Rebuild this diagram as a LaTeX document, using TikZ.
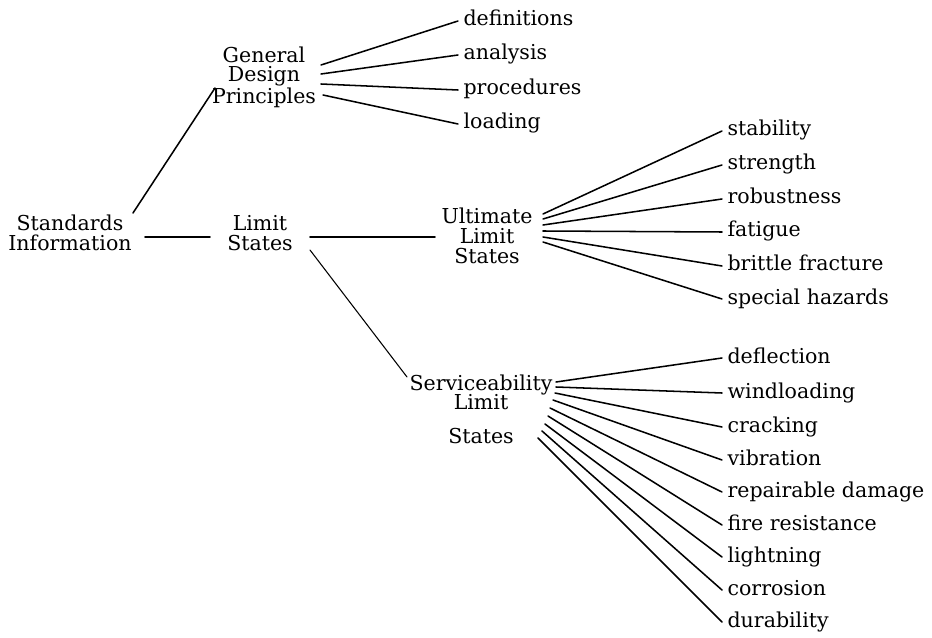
\documentclass[tikz,border=0pt]{standalone}
\usepackage{fontspec}
\setmainfont{DejaVu Serif}
\begin{document}
\begin{tikzpicture}[x=0.75pt,y=-0.75pt,
  lbl/.style={font=\fontsize{15.4}{14.8}\selectfont, align=center, inner sep=0pt},
  leaf/.style={font=\fontsize{15.4}{14.8}\selectfont, anchor=west, inner xsep=4pt, inner ysep=0pt, text height=11pt, text depth=3.5pt},
  conn/.style={line width=1.15pt, line cap=round}]
\useasboundingbox[fill=white] (0,0) rectangle (932,638);

% main nodes
\node[lbl] (si)  at (70,233)  {Standards\\Information};
\node[lbl] (gdp) at (264,77)  {General\\Design\\Principles};
\node[lbl] (ls)  at (260,233) {Limit\\States};
\node[lbl] (uls) at (487,236) {Ultimate\\Limit\\States};
\node[lbl] (sls) at (481,409) {Serviceability\\Limit\\[10pt]States};

% GDP leaves
\node[leaf] (def)  at (458,21)  {definitions};
\node[leaf] (ana)  at (458,55)  {analysis};
\node[leaf] (proc) at (458,90)  {procedures};
\node[leaf] (load) at (458,124) {loading};

% ULS leaves
\node[leaf] (stab) at (722,131) {stability};
\node[leaf] (str)  at (722,165) {strength};
\node[leaf] (rob)  at (722,199) {robustness};
\node[leaf] (fat)  at (722,232) {fatigue};
\node[leaf] (bri)  at (722,266) {brittle fracture};
\node[leaf] (spe)  at (722,299) {special hazards};

% SLS leaves
\node[leaf] (defl) at (722,358) {deflection};
\node[leaf] (wind) at (722,393) {windloading};
\node[leaf] (crac) at (722,427) {cracking};
\node[leaf] (vib)  at (722,460) {vibration};
\node[leaf] (rep)  at (722,492) {repairable damage};
\node[leaf] (fire) at (722,525) {fire resistance};
\node[leaf] (lig)  at (722,557) {lightning};
\node[leaf] (cor)  at (722,590) {corrosion};
\node[leaf] (dur)  at (722,622) {durability};

% trunk connectors
\draw[conn] ([shift={(63,-20)}]si.center) -- ([shift={(-49,11)}]gdp.center);
\draw[conn] ([shift={(75,4)}]si.center) -- ([shift={(-50,4)}]ls.center);
\draw[conn] ([shift={(50,4)}]ls.center) -- ([shift={(-52,1)}]uls.center);
\draw[conn, line width=0.8pt] ([shift={(50,17)}]ls.center) -- ([shift={(-74,-32)}]sls.center);

% GDP fan
\draw[conn] ([shift={(57,-12)}]gdp.center) -- (def.west);
\draw[conn] ([shift={(57,-3)}]gdp.center) -- (ana.west);
\draw[conn] ([shift={(57,7)}]gdp.center) -- (proc.west);
\draw[conn] ([shift={(59,18)}]gdp.center) -- (load.west);

% ULS fan
\draw[conn] ([shift={(56,-22)}]uls.center) -- (stab.west);
\draw[conn] ([shift={(56,-17)}]uls.center) -- (str.west);
\draw[conn] ([shift={(56,-11)}]uls.center) -- (rob.west);
\draw[conn] ([shift={(56,-5)}]uls.center) -- (fat.west);
\draw[conn] ([shift={(56,1)}]uls.center) -- (bri.west);
\draw[conn] ([shift={(56,6)}]uls.center) -- (spe.west);

% SLS fan
\draw[conn] ([shift={(75,-27)}]sls.center) -- (defl.west);
\draw[conn] ([shift={(75,-22)}]sls.center) -- (wind.west);
\draw[conn] ([shift={(74,-16)}]sls.center) -- (crac.west);
\draw[conn] ([shift={(72,-9)}]sls.center) -- (vib.west);
\draw[conn] ([shift={(69,-1)}]sls.center) -- (rep.west);
\draw[conn] ([shift={(67,7)}]sls.center) -- (fire.west);
\draw[conn] ([shift={(64,15)}]sls.center) -- (lig.west);
\draw[conn] ([shift={(61,22)}]sls.center) -- (cor.west);
\draw[conn] ([shift={(57,29)}]sls.center) -- (dur.west);
\end{tikzpicture}
\end{document}
